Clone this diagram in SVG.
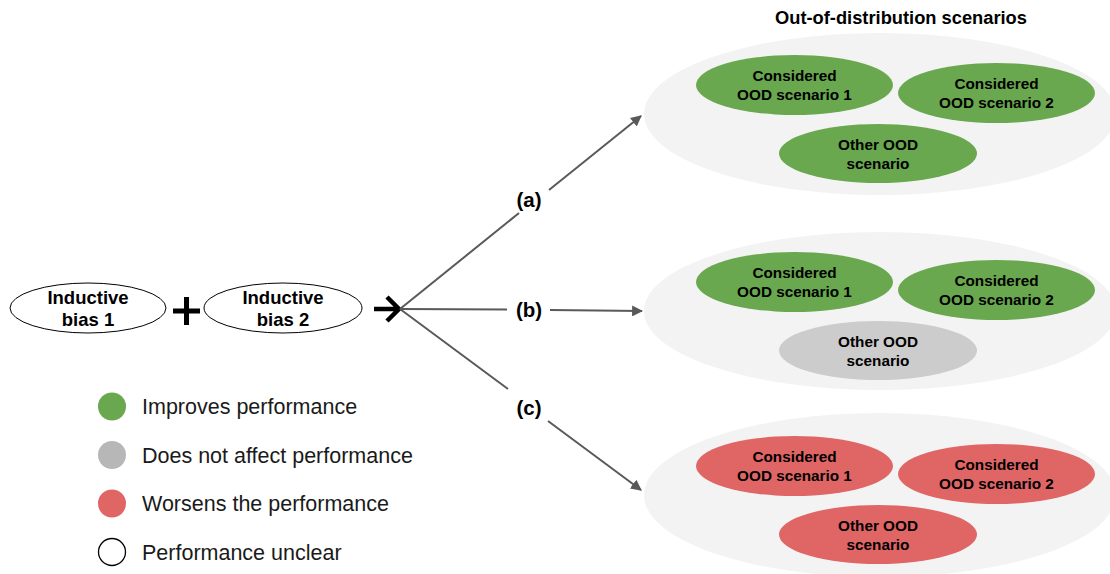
<svg xmlns="http://www.w3.org/2000/svg" width="1110" height="574" viewBox="0 0 1110 574">
<defs>
<marker id="ah" viewBox="0 0 10 10" refX="9" refY="5" markerWidth="5.5" markerHeight="5.5" orient="auto" markerUnits="strokeWidth">
<path d="M0,0 L10,5 L0,10 z" fill="#595959"/>
</marker>
</defs>
<style>
.t{font-family:"Liberation Sans",Arial,sans-serif;font-weight:bold;fill:#000;text-anchor:middle}
.n{font-size:15.3px}
.in{font-size:18.5px}
.lb{font-size:20.5px}
.lg{font-family:"Liberation Sans",Arial,sans-serif;font-size:21.5px;fill:#1a1a1a}
.bg{fill:#f3f3f3}
.g{fill:#6aa84f}
.gy{fill:#cccccc}
.r{fill:#e06666}
.c{stroke:#595959;stroke-width:2;fill:none}
</style>
<rect width="1110" height="574" fill="#fff"/>
<text class="t" x="901" y="24" style="font-size:18.3px">Out-of-distribution scenarios</text>

<g id="ind1"><ellipse cx="88" cy="308" rx="78" ry="25" fill="#fff" stroke="#000" stroke-width="1"/><text class="t in" x="88" y="304">Inductive</text><text class="t in" x="88" y="326">bias 1</text></g>
<g id="plus"><path d="M173,311 H200 M186.5,297 V325" stroke="#000" stroke-width="5"/></g>
<g id="ind2"><ellipse cx="283" cy="308" rx="79" ry="25" fill="#fff" stroke="#000" stroke-width="1"/><text class="t in" x="283" y="304">Inductive</text><text class="t in" x="283" y="326">bias 2</text></g>
<g id="join"><path d="M374,309 H398 M387,297 L399,309 L387,321" stroke="#000" stroke-width="4.5" fill="none"/></g>

<g id="connectors">
<path class="c" d="M400,309 L519,213" />
<path class="c" d="M549,190 L641,116" marker-end="url(#ah)"/>
<path class="c" d="M400,309 L507,309.5" />
<path class="c" d="M550,310 L642,311" marker-end="url(#ah)"/>
<path class="c" d="M400,309 L508,389" />
<path class="c" d="M548,421 L641,490" marker-end="url(#ah)"/>
<text class="t lb" x="529" y="207">(a)</text>
<text class="t lb" x="529" y="317">(b)</text>
<text class="t lb" x="529" y="415">(c)</text>
</g>

<g id="groupA">
<ellipse class="bg" cx="880" cy="114" rx="236" ry="81"/>
<g id="a1"><ellipse class="g" cx="794.5" cy="85" rx="98.5" ry="30"/><text class="t n" x="794.5" y="80.5">Considered</text><text class="t n" x="794.5" y="99.5">OOD scenario 1</text></g>
<g id="a2"><ellipse class="g" cx="996.5" cy="93" rx="98.5" ry="30"/><text class="t n" x="996.5" y="88.5">Considered</text><text class="t n" x="996.5" y="107.5">OOD scenario 2</text></g>
<g id="a3"><ellipse class="g" cx="878" cy="153.5" rx="99" ry="29.5"/><text class="t n" x="878" y="149.5">Other OOD</text><text class="t n" x="878" y="168.5">scenario</text></g>
</g>

<g id="groupB">
<ellipse class="bg" cx="880" cy="311" rx="236" ry="79"/>
<g id="b1"><ellipse class="g" cx="794.5" cy="282" rx="98.5" ry="30"/><text class="t n" x="794.5" y="277.5">Considered</text><text class="t n" x="794.5" y="296.5">OOD scenario 1</text></g>
<g id="b2"><ellipse class="g" cx="996.5" cy="290" rx="98.5" ry="30"/><text class="t n" x="996.5" y="285.5">Considered</text><text class="t n" x="996.5" y="304.5">OOD scenario 2</text></g>
<g id="b3"><ellipse class="gy" cx="878" cy="350.5" rx="99" ry="29.5"/><text class="t n" x="878" y="346.5">Other OOD</text><text class="t n" x="878" y="365.5">scenario</text></g>
</g>

<g id="groupC">
<ellipse class="bg" cx="880" cy="495" rx="236" ry="82"/>
<g id="c1"><ellipse class="r" cx="794.5" cy="466" rx="98.5" ry="30"/><text class="t n" x="794.5" y="461.5">Considered</text><text class="t n" x="794.5" y="480.5">OOD scenario 1</text></g>
<g id="c2"><ellipse class="r" cx="996.5" cy="474" rx="98.5" ry="30"/><text class="t n" x="996.5" y="469.5">Considered</text><text class="t n" x="996.5" y="488.5">OOD scenario 2</text></g>
<g id="c3"><ellipse class="r" cx="878" cy="534.5" rx="99" ry="29.5"/><text class="t n" x="878" y="530.5">Other OOD</text><text class="t n" x="878" y="549.5">scenario</text></g>
</g>

<g id="legend">
<circle cx="112" cy="406.5" r="14" class="g"/><text class="lg" x="142" y="414">Improves performance</text>
<circle cx="112" cy="455" r="14" fill="#b7b7b7"/><text class="lg" x="142" y="462.5">Does not affect performance</text>
<circle cx="112" cy="503.5" r="14" class="r"/><text class="lg" x="142" y="511">Worsens the performance</text>
<circle cx="112" cy="552" r="13.5" fill="#fff" stroke="#000" stroke-width="1.3"/><text class="lg" x="142" y="559.5">Performance unclear</text>
</g>
</svg>
